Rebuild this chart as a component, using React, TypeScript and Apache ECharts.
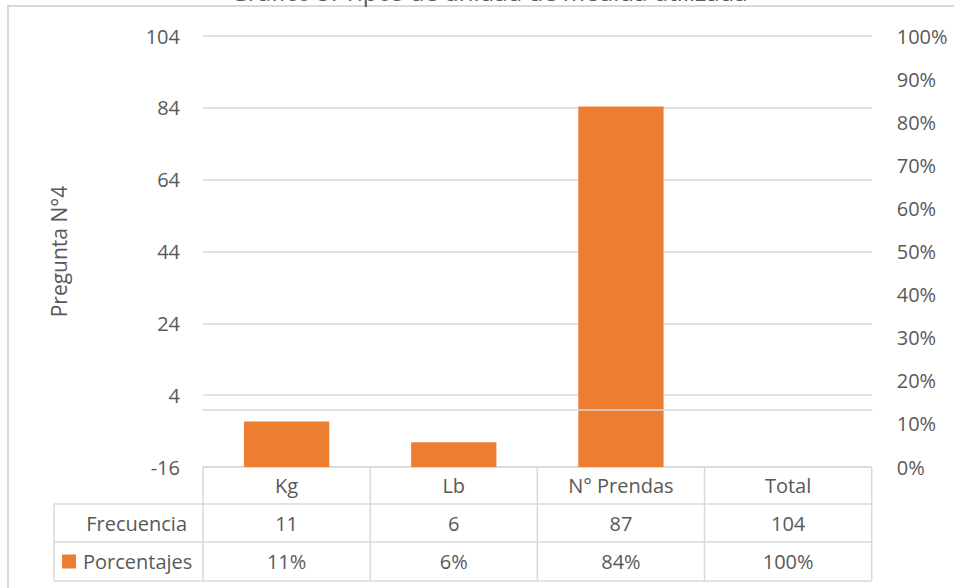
import React, { useEffect, useRef } from "react";
import * as echarts from "echarts";

const categories = ["Kg", "Lb", "N° Prendas", "Total"];
const frecuencia = [11, 6, 87, 104];
const porcentajesLabels = ["11%", "6%", "84%", "100%"];
// bar heights (percent); the Total bar is not drawn in the reference
const porcentajesBar: (number | null)[] = [10.58, 5.77, 83.65, null];
const leftAxis = { min: -16, max: 104, interval: 20 };
const rightAxis = { min: 0, max: 100, interval: 10 };
const axisTitle = "Pregunta N°4";
const chartTitle = "Gráfico 5: Tipos de unidad de medida utilizada";

const W = 954;
const H = 588;
const FONT = "'Open Sans', sans-serif";
const TXT = "#595959";
const LINE = "#d9d9d9";
const ORANGE = "#ED7D31";

const PLOT_L = 203;
const PLOT_R = 871.7;
const PLOT_T = 36;
const PLOT_B = 467;

export default function App() {
  const ref = useRef<HTMLDivElement>(null);
  useEffect(() => {
    if (!ref.current) return;
    const chart = echarts.init(ref.current, null, { renderer: "svg", width: W, height: H });

    const colW = (PLOT_R - PLOT_L) / categories.length;
    const rowY = [PLOT_B, 504, 542, 581];
    const labelLeft = 54;
    const g: any[] = [];
    const ln = (x1: number, y1: number, x2: number, y2: number) =>
      g.push({ type: "line", shape: { x1, y1, x2, y2 }, style: { stroke: LINE, lineWidth: 1.5 }, silent: true });
    // table horizontal lines
    ln(PLOT_L, rowY[0], PLOT_R, rowY[0]);
    ln(labelLeft, rowY[1], PLOT_R, rowY[1]);
    ln(labelLeft, rowY[2], PLOT_R, rowY[2]);
    ln(labelLeft, rowY[3], PLOT_R, rowY[3]);
    // verticals
    for (let i = 0; i <= categories.length; i++) {
      ln(PLOT_L + i * colW, rowY[0], PLOT_L + i * colW, rowY[3]);
    }
    ln(labelLeft, rowY[1], labelLeft, rowY[3]);
    const txt = (s: string, x: number, y: number, align: string) =>
      g.push({
        type: "text",
        x,
        y,
        silent: true,
        style: { text: s, fill: TXT, font: `20px ${FONT}`, align, verticalAlign: "middle" },
      });
    const mid = (a: number, b: number) => (a + b) / 2;
    categories.forEach((c, i) => {
      const cx = PLOT_L + (i + 0.5) * colW;
      txt(c, cx, mid(rowY[0], rowY[1]), "center");
      txt(String(frecuencia[i]), cx, mid(rowY[1], rowY[2]), "center");
      txt(porcentajesLabels[i], cx, mid(rowY[2], rowY[3]), "center");
    });
    txt("Frecuencia", PLOT_L - 16, mid(rowY[1], rowY[2]), "right");
    txt("Porcentajes", 83, mid(rowY[2], rowY[3]), "left");
    g.push({
      type: "rect",
      shape: { x: 62, y: mid(rowY[2], rowY[3]) - 7, width: 14, height: 14 },
      style: { fill: ORANGE },
      silent: true,
    });
    // outer frame
    g.push({
      type: "rect",
      shape: { x: 8, y: 6, width: 1000, height: 700 },
      style: { fill: "none", stroke: LINE, lineWidth: 2 },
      silent: true,
    });
    // title (cut off at the top in the reference)
    g.push({
      type: "text",
      x: 489,
      y: 3.5,
      silent: true,
      style: { text: chartTitle, fill: TXT, font: `24px ${FONT}`, align: "center", verticalAlign: "bottom" },
    });

    chart.setOption({
      animation: false,
      backgroundColor: "#ffffff",
      textStyle: { fontFamily: FONT },
      grid: { left: PLOT_L, right: W - PLOT_R, top: PLOT_T, bottom: H - PLOT_B, containLabel: false },
      xAxis: {
        type: "category",
        data: categories,
        z: 10,
        axisLabel: { show: false },
        axisTick: { show: false },
        axisLine: { show: true, onZero: true, onZeroAxisIndex: 0, lineStyle: { color: LINE, width: 1.5 } },
        splitLine: { show: false },
      },
      yAxis: [
        {
          type: "value",
          position: "left",
          min: leftAxis.min,
          max: leftAxis.max,
          interval: leftAxis.interval,
          name: axisTitle,
          nameLocation: "middle",
          nameRotate: 90,
          nameGap: PLOT_L - 69,
          nameTextStyle: { color: TXT, fontSize: 21, fontFamily: FONT },
          axisLabel: { color: TXT, fontSize: 20, fontFamily: FONT, margin: 23 },
          axisLine: { show: false },
          axisTick: { show: false },
          splitLine: { show: true, lineStyle: { color: LINE, width: 1.5 } },
        },
        {
          type: "value",
          position: "right",
          min: rightAxis.min,
          max: rightAxis.max,
          interval: rightAxis.interval,
          axisLabel: { color: TXT, fontSize: 20, fontFamily: FONT, margin: 25, formatter: "{value}%" },
          axisLine: { show: false },
          axisTick: { show: false },
          splitLine: { show: false },
        },
      ],
      series: [
        {
          name: "Porcentajes",
          type: "bar",
          yAxisIndex: 1,
          data: porcentajesBar,
          barWidth: "51%",
          itemStyle: { color: ORANGE },
          silent: true,
        },
        {
          name: "Frecuencia",
          type: "line",
          yAxisIndex: 0,
          data: frecuencia,
          showSymbol: false,
          lineStyle: { opacity: 0 },
          silent: true,
        },
      ],
      graphic: g,
    });
    return () => chart.dispose();
  }, []);
  return (
    <div
      style={{ position: "fixed", left: 0, top: 0, width: W, height: H, background: "#fff" }}
    >
      <div ref={ref} style={{ width: W, height: H }} />
    </div>
  );
}
